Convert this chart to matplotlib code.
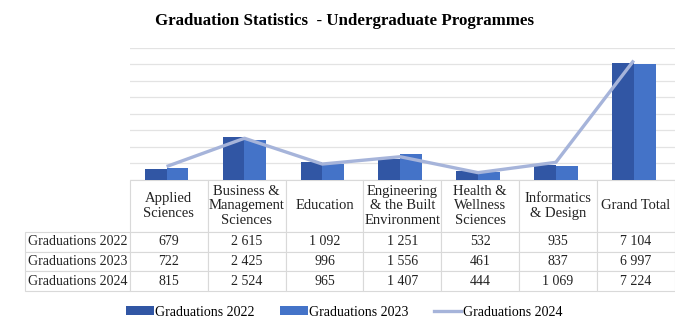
import matplotlib
matplotlib.use("Agg")
import matplotlib.pyplot as plt
import numpy as np
from matplotlib.patches import Patch
from matplotlib.lines import Line2D

categories = ["Applied\nSciences", "Business &\nManagement\nSciences", "Education",
              "Engineering\n& the Built\nEnvironment", "Health &\nWellness\nSciences",
              "Informatics\n& Design", "Grand Total"]
series_names = ["Graduations 2022", "Graduations 2023", "Graduations 2024"]
g2022 = [679, 2615, 1092, 1251, 532, 935, 7104]
g2023 = [722, 2425, 996, 1556, 461, 837, 6997]
g2024 = [815, 2524, 965, 1407, 444, 1069, 7224]

SERIF = ["Liberation Serif", "DejaVu Serif"]
plt.rcParams['font.family'] = SERIF

c22 = "#3156A4"
c23 = "#4473C8"
c24 = "#A6B4DA"

AX_W, AX_H = 545.0, 132.3
fig = plt.figure(figsize=(6.75, 3.32), dpi=100)
ax = fig.add_axes([130/675, 1-180/332, AX_W/675, AX_H/332])

x = np.arange(len(categories))
bw = 0.28
ax.bar(x - bw/2 - 0.03, g2022, width=bw, color=c22, zorder=2)
ax.bar(x + bw/2 - 0.03, g2023, width=bw, color=c23, zorder=2)
ax.plot(x - 0.03, g2024, color=c24, lw=2.4, zorder=3, solid_capstyle='butt')

ax.set_xlim(-0.5, len(categories) - 0.5)
ax.set_ylim(0, 8000)
ax.set_yticks(np.arange(0, 8001, 1000))
ax.yaxis.grid(True, color="#E3E3E3", lw=0.9, zorder=0)
ax.set_axisbelow(True)
ax.tick_params(left=False, bottom=False, labelleft=False, labelbottom=False)
for s in ax.spines.values():
    s.set_visible(False)

def fmt(v):
    return f"{v:,}".replace(",", " ")

cell_text = [[fmt(v) for v in row] for row in (g2022, g2023, g2024)]
tbl = ax.table(cellText=cell_text, rowLabels=series_names, colLabels=categories,
               cellLoc='center', rowLoc='left',
               bbox=[0, -111/AX_H, 1, 111/AX_H])
tbl.auto_set_font_size(False)
tbl.set_fontsize(10)
for (r, c), cell in tbl.get_celld().items():
    cell.set_edgecolor("#D9D9D9")
    cell.set_linewidth(0.8)
    cell.set_height((52 if r == 0 else 19.7) / AX_H)
    cell.set_width((106 if c == -1 else 78) / AX_W)
    t = cell.get_text()
    t.set_fontfamily(SERIF)
    t.set_color("#222222")
    if r == 0:
        t.set_fontsize(10.5)
        t.set_linespacing(1.17)
    if c == -1:
        cell.PAD = 0.03

fig.text(0.51, 1 - 21/332, "Graduation Statistics  - Undergraduate Programmes",
         ha='center', va='center', fontsize=12.2, fontweight='bold', family=SERIF)

handles = [Patch(facecolor=c22), Patch(facecolor=c23), Line2D([0], [0], color=c24, lw=2.4)]
fig.legend(handles, series_names, loc='center', bbox_to_anchor=(0.51, 1 - 312/332),
           ncol=3, frameon=False, handlelength=2.0, handleheight=0.55,
           columnspacing=1.8, handletextpad=0.1, prop={'family': SERIF, 'size': 10})

fig.savefig("out.png", dpi=100)
